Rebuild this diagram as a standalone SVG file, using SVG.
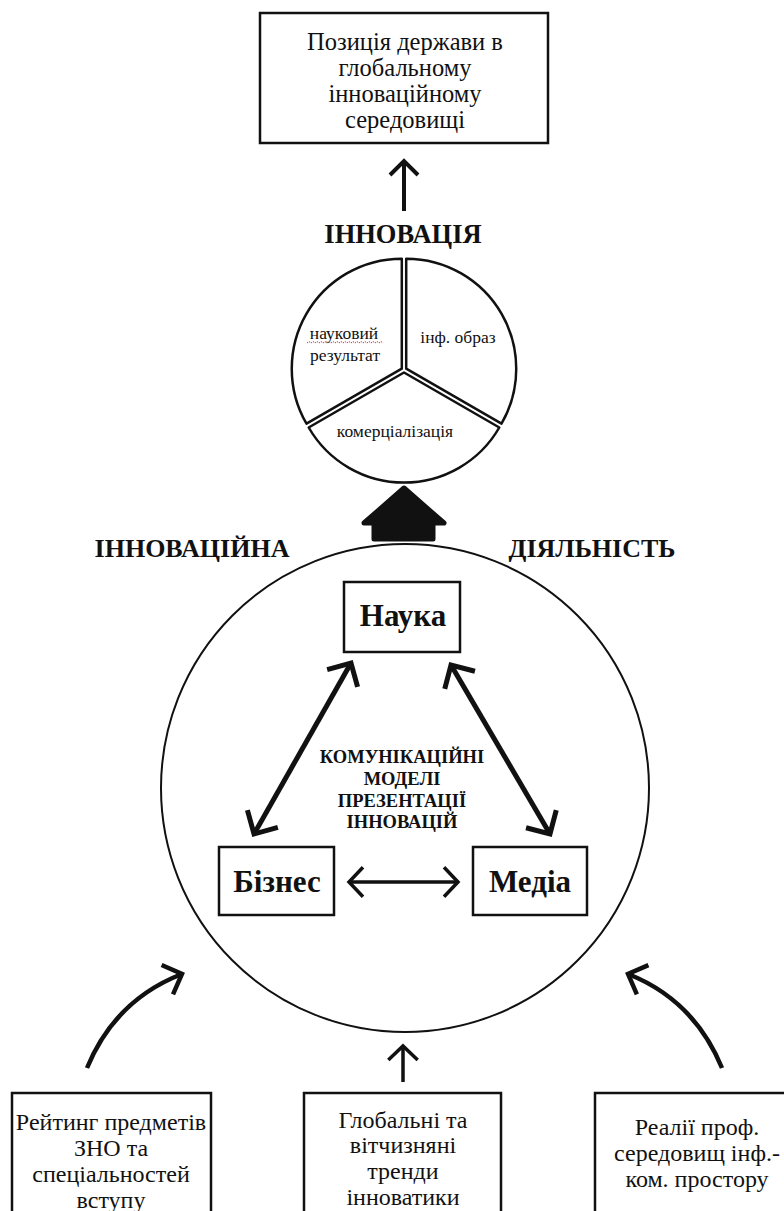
<svg xmlns="http://www.w3.org/2000/svg" width="784" height="1211" viewBox="0 0 784 1211">
<style>
.t{font-family:'Liberation Serif','Tinos','DejaVu Serif',serif;fill:#111;text-anchor:middle}
.b{font-weight:bold}
.box{fill:#fff;stroke:#111;stroke-width:2.5}
.ln{fill:none;stroke:#111;stroke-linecap:butt}
</style>
<defs>
<marker id="ah" viewBox="0 0 10 10" refX="5" refY="5" markerWidth="10" markerHeight="10" markerUnits="strokeWidth" orient="auto-start-reverse" overflow="visible">
<path d="M1.5,1.5 L5,5 L1.5,8.5" fill="none" stroke="#111" stroke-width="1" stroke-linejoin="miter"/>
</marker>
<marker id="ah2" viewBox="0 0 10 10" refX="5" refY="5" markerWidth="10" markerHeight="10" markerUnits="strokeWidth" orient="auto-start-reverse" overflow="visible">
<path d="M1,0.8 L5,5 L1,9.2" fill="none" stroke="#111" stroke-width="1" stroke-linejoin="miter"/>
</marker>
</defs>
<rect width="784" height="1211" fill="#fff"/>

<g id="node-position">
<rect class="box" x="260" y="13" width="288" height="130"/>
<text class="t" font-size="24.5" x="405" y="50">Позиція держави в</text>
<text class="t" font-size="24.5" x="405" y="76">глобальному</text>
<text class="t" font-size="24.5" x="405" y="102">інноваційному</text>
<text class="t" font-size="24.5" x="405" y="128">середовищі</text>
</g>

<g id="node-innovation">
<text class="t b" font-size="26.5" x="403" y="243">ІННОВАЦІЯ</text>
<path transform="translate(-2.2,-1.3)" d="M404,370 L404,260 A110,110 0 0 0 308.7,425 Z" fill="#fff" stroke="#111" stroke-width="2.5" stroke-linejoin="round"/>
<path transform="translate(2.2,-1.3)" d="M404,370 L404,260 A110,110 0 0 1 499.3,425 Z" fill="#fff" stroke="#111" stroke-width="2.5" stroke-linejoin="round"/>
<path transform="translate(0,2.5)" d="M404,370 L499.3,425 A110,110 0 0 1 308.7,425 Z" fill="#fff" stroke="#111" stroke-width="2.5" stroke-linejoin="round"/>
<text class="t" font-size="17.5" x="344" y="339">науковий</text>
<path d="M307,343 l2,-1.5 l2,1.5 l2,-1.5 l2,1.5 l2,-1.5 l2,1.5 l2,-1.5 l2,1.5 l2,-1.5 l2,1.5 l2,-1.5 l2,1.5 l2,-1.5 l2,1.5 l2,-1.5 l2,1.5 l2,-1.5 l2,1.5 l2,-1.5 l2,1.5 l2,-1.5 l2,1.5 l2,-1.5 l2,1.5 l2,-1.5 l2,1.5 l2,-1.5 l2,1.5 l2,-1.5 l2,1.5 l2,-1.5 l2,1.5 l2,-1.5 l2,1.5 l2,-1.5 l2,1.5 l2,-1.5 l2,1.5" fill="none" stroke="#d33" stroke-width="1" stroke-dasharray="1.5,1"/>
<text class="t" font-size="17.5" x="345" y="361">результат</text>
<text class="t" font-size="17.5" x="458" y="343">інф. образ</text>
<text class="t" font-size="17.5" x="395" y="437">комерціалізація</text>
</g>

<g id="node-activity">
<text class="t b" font-size="26" x="192" y="557">ІННОВАЦІЙНА</text>
<text class="t b" font-size="26" x="592" y="557">ДІЯЛЬНІСТЬ</text>
<circle cx="405" cy="788" r="244" fill="none" stroke="#111" stroke-width="2"/>
<text class="t b" font-size="18.5" x="402" y="763">КОМУНІКАЦІЙНІ</text>
<text class="t b" font-size="18.5" x="402" y="785">МОДЕЛІ</text>
<text class="t b" font-size="18.5" x="402" y="807">ПРЕЗЕНТАЦІЇ</text>
<text class="t b" font-size="18.5" x="402" y="828">ІННОВАЦІЙ</text>
</g>

<g id="node-nauka">
<rect class="box" x="344" y="582" width="116" height="70" stroke-width="2"/>
<text class="t b" font-size="31" x="403" y="626">Наука</text>
</g>
<g id="node-biznes">
<rect class="box" x="219" y="847" width="115" height="68" stroke-width="2"/>
<text class="t b" font-size="31" x="277" y="892">Бізнес</text>
</g>
<g id="node-media">
<rect class="box" x="473" y="847" width="114" height="68" stroke-width="2"/>
<text class="t b" font-size="31" x="530" y="892">Медіа</text>
</g>

<g id="node-rating">
<rect class="box" x="12" y="1093" width="199" height="140"/>
<text class="t" font-size="24" x="111" y="1130">Рейтинг предметів</text>
<text class="t" font-size="24" x="111" y="1156">ЗНО та</text>
<text class="t" font-size="24" x="111" y="1182">спеціальностей</text>
<text class="t" font-size="24" x="111" y="1208">вступу</text>
</g>
<g id="node-trends">
<rect class="box" x="304" y="1093" width="197" height="140"/>
<text class="t" font-size="24" x="403" y="1128">Глобальні та</text>
<text class="t" font-size="24" x="403" y="1153">вітчизняні</text>
<text class="t" font-size="24" x="403" y="1179">тренди</text>
<text class="t" font-size="24" x="403" y="1205">інноватики</text>
</g>
<g id="node-realities">
<rect class="box" x="595" y="1093" width="210" height="140"/>
<text class="t" font-size="24" x="697" y="1135">Реалії проф.</text>
<text class="t" font-size="24" x="697" y="1161">середовищ інф.-</text>
<text class="t" font-size="24" x="697" y="1187">ком. простору</text>
</g>

<g id="connectors">
<line class="ln" x1="404" y1="211" x2="404" y2="161" stroke-width="4" marker-end="url(#ah)"/>
<path d="M404,488 L444,523 L433,523 L433,539 L374,539 L374,523 L364,523 Z" fill="#111" stroke="#111" stroke-width="5" stroke-linejoin="round"/>
<line class="ln" x1="254" y1="834" x2="351" y2="663" stroke-width="5" marker-start="url(#ah)" marker-end="url(#ah)"/>
<line class="ln" x1="451" y1="665" x2="550" y2="834" stroke-width="5" marker-start="url(#ah)" marker-end="url(#ah)"/>
<line class="ln" x1="349" y1="882" x2="458" y2="882" stroke-width="3.5" marker-start="url(#ah2)" marker-end="url(#ah2)"/>
<path class="ln" d="M87,1068 Q115,1000 182,974" stroke-width="4.5" marker-end="url(#ah)"/>
<path class="ln" d="M722,1068 Q694,1000 628,974" stroke-width="4.5" marker-end="url(#ah)"/>
<line class="ln" x1="403" y1="1082" x2="403" y2="1046" stroke-width="3.5" marker-end="url(#ah2)"/>
</g>
</svg>
